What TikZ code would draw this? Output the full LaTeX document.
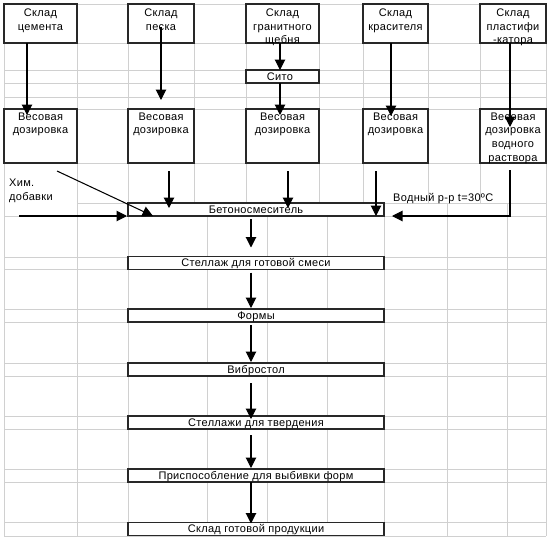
\documentclass[tikz,border=0pt]{standalone}
\usepackage{fontspec}
\setmainfont{Liberation Sans}[LetterSpace=3]
\usetikzlibrary{arrows.meta,calc}
\definecolor{gridc}{RGB}{208,208,208}
\definecolor{boxc}{RGB}{40,40,40}
\begin{document}
\begin{tikzpicture}[x=1pt,y=-1pt,
  gridline/.style={draw=gridc,line width=0.9pt},
  box/.style={draw=boxc,line width=1.1pt,fill=white,inner sep=0pt,outer sep=0pt,anchor=north west},
  lbox/.style={draw=boxc,line width=1.1pt,fill=white,inner sep=0pt,outer sep=0pt,anchor=center,
    minimum width=256pt,minimum height=13pt,text height=7.8pt,text depth=0pt},
  txt/.style={inner sep=0pt,align=center,anchor=north},
  arr/.style={draw=black,line width=1.05pt,-{Triangle[width=10.5pt,length=10.5pt]}},
  every node/.style={font=\fontsize{11}{13.7}\selectfont}
]
\useasboundingbox (0,0) rectangle (550,539);
% grid
\foreach \y in {4,43,70,83,97,109,163,216,257,269,309,322,363,376,416,429,469,482,522,536}
  \draw[gridline] (4,\y) -- (546,\y);
\draw[gridline] (77,203) -- (546,203);
\foreach \x in {4,77,128,546} \draw[gridline] (\x,4) -- (\x,536);
\foreach \x in {194,246,319,363,428,480} \draw[gridline] (\x,4) -- (\x,203);
\foreach \x in {207,267,327,384,447,507} \draw[gridline] (\x,203) -- (\x,536);
% top boxes
\node[box,minimum width=73pt,minimum height=39pt] (s1) at (4,4) {};
\node[box,minimum width=66pt,minimum height=39pt] (s2) at (128,4) {};
\node[box,minimum width=73pt,minimum height=39pt] (s3) at (246,4) {};
\node[box,minimum width=65pt,minimum height=39pt] (s4) at (363,4) {};
\node[box,minimum width=66pt,minimum height=39pt] (s5) at (480,4) {};
\node[txt] (t1) at ($(s1.north)+(0,4.5)$) {Склад\\цемента};
\node[txt] (t2) at ($(s2.north)+(0,4.5)$) {Склад\\песка};
\node[txt] (t3) at ($(s3.north)+(0,4.5)$) {Склад\\гранитного\\щебня};
\node[txt] (t4) at ($(s4.north)+(0,4.5)$) {Склад\\красителя};
\node[txt] (t5) at ($(s5.north)+(0,4.5)$) {Склад\\пластифи\\-катора};
% sieve
\node[box,minimum width=73pt,minimum height=13pt] (sito) at (246,70) {};
\node[inner sep=0pt,anchor=base] (tsito) at (280,80.5) {Сито};
% dosing boxes
\node[box,minimum width=73pt,minimum height=54pt] (w1) at (4,109) {};
\node[box,minimum width=66pt,minimum height=54pt] (w2) at (128,109) {};
\node[box,minimum width=73pt,minimum height=54pt] (w3) at (246,109) {};
\node[box,minimum width=65pt,minimum height=54pt] (w4) at (363,109) {};
\node[box,minimum width=66pt,minimum height=54pt] (w5) at (480,109) {};
\node[txt] (u1) at ($(w1.north)+(0,3.5)$) {Весовая\\дозировка};
\node[txt] (u2) at ($(w2.north)+(0,3.5)$) {Весовая\\дозировка};
\node[txt] (u3) at ($(w3.north)+(0,3.5)$) {Весовая\\дозировка};
\node[txt] (u4) at ($(w4.north)+(0,3.5)$) {Весовая\\дозировка};
\node[txt] (u5) at ($(w5.north)+(0,3.5)$) {Весовая\\дозировка\\водного\\раствора};
% side labels
\node[inner sep=0pt,align=left,anchor=north west] (chem) at (9,179) {Хим.\\добавки};
\node[inner sep=0pt,anchor=base west] (water) at (393,201) {Водный р-р t=30ºC};
% process chain
\node[lbox] (mix) at (256,209.5) {Бетоносмеситель};
\node[lbox] (b2) at (256,263) {Стеллаж для готовой смеси};
\node[lbox] (b3) at (256,315.5) {Формы};
\node[lbox] (b4) at (256,369.5) {Вибростол};
\node[lbox] (b5) at (256,422.5) {Стеллажи для твердения};
\node[lbox] (b6) at (256,475.5) {Приспособление для выбивки форм};
\node[lbox] (b7) at (256,529) {Склад готовой продукции};
\coordinate (chemstart) at (19,216);
% arrows top
\draw[arr] ($(s1.south west)+(23,0)$) -- ($(w1.north west)+(23,6)$);
\draw[arr] ($(s2.north west)+(33,23)$) -- ($(w2.north west)+(33,-9)$);
\draw[arr] ($(s3.south west)+(34,0)$) -- ($(sito.north west)+(34,0)$);
\draw[arr] ($(sito.south west)+(34,0)$) -- ($(w3.north west)+(34,6)$);
\draw[arr] ($(s4.south west)+(28,0)$) -- ($(w4.north west)+(28,7)$);
\draw[arr] ($(s5.south west)+(30,0)$) -- ($(w5.north west)+(30,18)$);
% arrows into mixer
\draw[arr] ($(w1.south west)+(53,8)$) -- ($(mix.south west)+(25,0)$);
\draw[arr] (chemstart) -- ($(mix.south west)+(-1,0)$);
\draw[arr] ($(w2.south west)+(41,8)$) -- ($(mix.north west)+(41,5)$);
\draw[arr] ($(w3.south west)+(42,8)$) -- ($(mix.north west)+(160,5)$);
\draw[arr] ($(w4.south west)+(13,8)$) -- ($(mix.south west)+(248,0)$);
\draw[arr] ($(w5.south west)+(30,7)$) |- ($(mix.south east)+(8,0)$);
% chain arrows
\draw[arr] ($(mix.south)+(-5,3)$) -- ($(b2.north)+(-5,-9)$);
\draw[arr] ($(b2.south)+(-5,3)$) -- ($(b3.north)+(-5,-1)$);
\draw[arr] ($(b3.south)+(-5,3)$) -- ($(b4.north)+(-5,-1)$);
\draw[arr] ($(b4.south)+(-5,7)$) -- ($(b5.north)+(-5,3)$);
\draw[arr] ($(b5.south)+(-5,6)$) -- ($(b6.north)+(-5,-1)$);
\draw[arr] ($(b6.south)+(-5,0)$) -- ($(b7.north)+(-5,1)$);
\end{tikzpicture}
\end{document}
